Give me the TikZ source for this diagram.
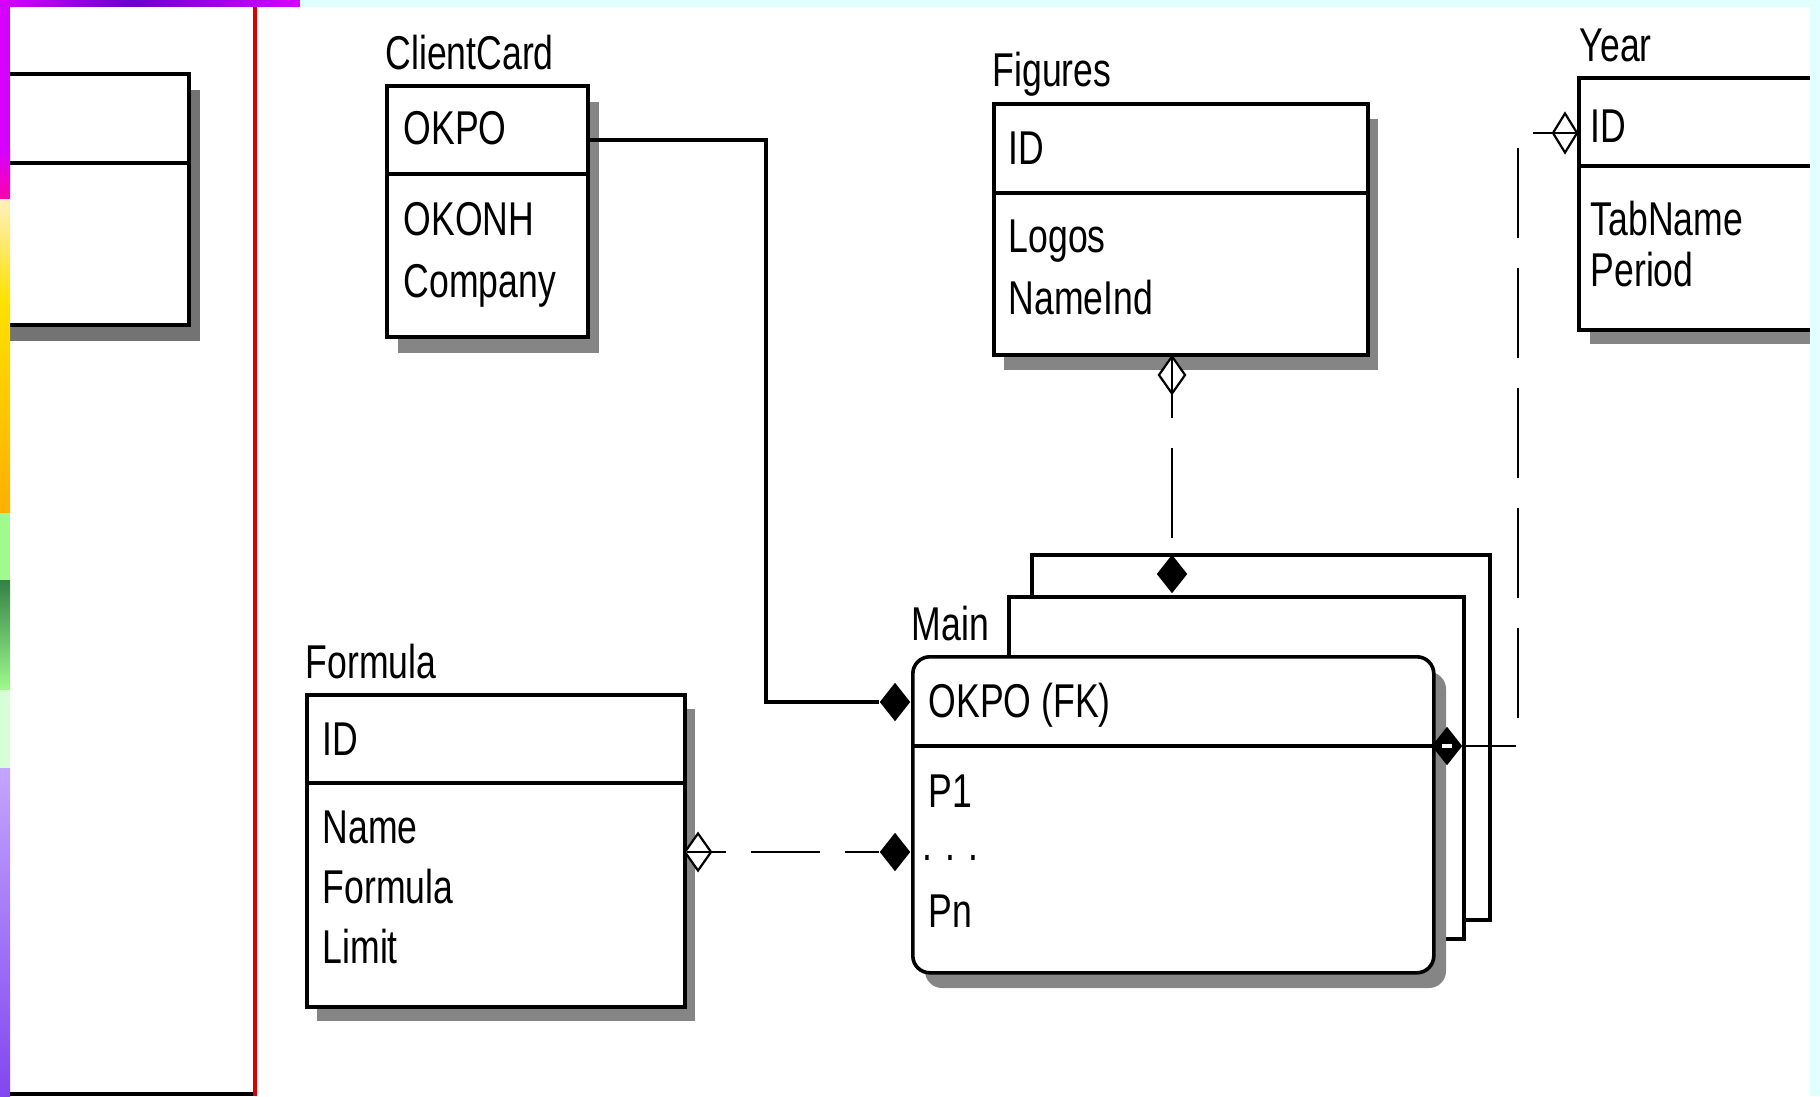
\documentclass[tikz,border=0pt]{standalone}
\usepackage{fontspec}
\newfontfamily\erfont{Liberation Sans}[FakeStretch=0.75]
\usetikzlibrary{shapes.geometric}
\definecolor{stripcyan}{RGB}{224,255,255}
\definecolor{panelred}{RGB}{220,0,0}
\definecolor{stripmag}{RGB}{215,0,255}
\definecolor{stripblue}{RGB}{110,0,200}
\definecolor{strippink}{RGB}{255,0,170}
\definecolor{stripcream}{RGB}{255,240,190}
\definecolor{stripyellow}{RGB}{255,225,0}
\definecolor{striporange}{RGB}{255,175,0}
\definecolor{stripgreen}{RGB}{160,250,140}
\definecolor{stripdark}{RGB}{50,130,70}
\definecolor{strippale}{RGB}{215,255,215}
\definecolor{striplav}{RGB}{195,165,255}
\definecolor{stripviolet}{RGB}{130,70,240}

\begin{document}
\begin{tikzpicture}[x=0.1mm, y=-0.1mm,
  every node/.style={font=\erfont\fontsize{13.5}{16}\selectfont},
  entity/.style={draw, line width=0.36mm, fill=white, inner sep=0, anchor=north west},
  tabframe/.style={draw, line width=0.36mm, fill=white, inner sep=0, anchor=north west},
  shadowc/.style={fill=black!48},
  divline/.style={line width=0.36mm},
  lbl/.style={anchor=base west, inner sep=0},
  rel/.style={line width=0.34mm},
  nonid/.style={line width=0.28mm, dash pattern=on 9mm off 3mm},
  keydia/.style={shape=diamond, fill=black, inner sep=0, minimum width=3.1mm, minimum height=3.9mm},
  opendia/.style={shape=diamond, draw, fill=white, line width=0.22mm, inner sep=0, minimum width=2.7mm, minimum height=3.8mm}]
	\useasboundingbox (0,0) rectangle (1820,1096);
	\fill[white] (0,0) rectangle (1820,1096);

	\fill[black!55] (-27,90) rectangle (200,341);
	\node[entity, minimum width=22.7mm, minimum height=25.1mm] (leftbox) at (-40,72) {};
	\draw[divline] (-40,163) -- (187,163);

	\fill[stripmag] (0,7) rectangle (10,150);
	\shade[top color=stripmag, bottom color=strippink] (0,150) rectangle (10,200);
	\shade[top color=stripcream, bottom color=stripyellow] (0,200) rectangle (10,300);
	\shade[top color=stripyellow, bottom color=striporange] (0,300) rectangle (10,513);
	\fill[stripgreen] (0,513) rectangle (10,580);
	\shade[top color=stripdark, bottom color=stripgreen] (0,580) rectangle (10,690);
	\fill[strippale] (0,690) rectangle (10,768);
	\shade[top color=striplav, bottom color=stripviolet] (0,768) rectangle (10,1096);
	\fill[panelred] (253,7) rectangle (257,1096);
	\fill (10,1092) rectangle (253,1096);

	\fill[shadowc] (398,102) rectangle (599,353);
	\node[entity, minimum width=20.1mm, minimum height=25.1mm] (client) at (385,84) {};
	\draw[divline] (385,174) -- (586,174);

	\fill[shadowc] (1004,119) rectangle (1378,370);
	\node[entity, minimum width=37.4mm, minimum height=25.1mm] (figs) at (992,102) {};
	\draw[divline] (992,193) -- (1366,193);

	\fill[shadowc] (317,709) rectangle (695,1021);
	\node[entity, minimum width=37.8mm, minimum height=31.2mm] (formbox) at (305,693) {};
	\draw[divline] (305,783) -- (683,783);

	\fill[shadowc] (1590,92) rectangle (1900,344);
	\node[entity, minimum width=30mm, minimum height=25.2mm] (yearbox) at (1577,76) {};
	\draw[divline] (1577,166) -- (1877,166);

	\node[tabframe, minimum width=45.8mm, minimum height=36.5mm] (mainback) at (1030,553) {};
	\node[tabframe, minimum width=45.5mm, minimum height=34.2mm] (mainmid) at (1007,595) {};
	\fill[shadowc, rounded corners=1.7mm] (925,672) rectangle (1446,988);
	\node[tabframe, rounded corners=1.7mm, minimum width=52.1mm, minimum height=31.6mm] (mainfront) at (911,655) {};
	\draw[divline] (911,746) -- (1432,746);

	\node[lbl] (tClient) at (385,70) {ClientCard};
	\node[lbl] (cOKPO) at (403,145) {OKPO};
	\node[lbl] (cOKONH) at (403,235) {OKONH};
	\node[lbl] (cCompany) at (403,297) {Company};

	\node[lbl] (tFigs) at (992,87) {Figures};
	\node[lbl] (gID) at (1008,165) {ID};
	\node[lbl] (gLogos) at (1008,253) {Logos};
	\node[lbl] (gNameInd) at (1008,315) {NameInd};

	\node[lbl] (tYear) at (1579,62) {Year};
	\node[lbl] (yID) at (1590,143) {ID};
	\node[lbl] (yTabName) at (1590,235) {TabName};
	\node[lbl] (yPeriod) at (1590,287) {Period};

	\node[lbl] (tForm) at (305,678) {Formula};
	\node[lbl] (fID) at (322,755) {ID};
	\node[lbl] (fName) at (322,843) {Name};
	\node[lbl] (fFormula) at (322,903) {Formula};
	\node[lbl] (fLimit) at (322,963) {Limit};

	\node[lbl] (tMain) at (911,640) {Main};
	\node[lbl] (mOKPO) at (928,717) {OKPO (FK)};
	\node[lbl] (mP1) at (928,807) {P1};
	\node[lbl] (mDots) at (922,860) {. . .};
	\node[lbl] (mPn) at (928,927) {Pn};

	\coordinate (bendA) at (766,140);
	\coordinate (bendY) at (1518,133);
	\node[keydia] (dOKPO) at (895,702) {};
	\node[keydia] (dDots) at (895,852) {};
	\node[keydia] (dFig) at (1172,574) {};
	\node[keydia] (dYear) at (1447,746) {};
	\node[opendia] (oForm) at (698,852) {};
	\node[opendia] (oFig) at (1172,375) {};
	\node[opendia, minimum width=2.5mm, minimum height=4mm] (oYear) at (1565,133) {};
	\draw[rel] (client.east |- bendA) -- (bendA) |- (dOKPO);
	\draw[nonid, dash pattern=on 6.9mm off 2.5mm, dash phase=3.5mm] (dDots) -- (formbox.east |- dDots);
	\draw[nonid, dash phase=2.9mm] (figs.south -| oFig) -- (dFig);
	\draw[nonid, dash phase=4.6mm] (yearbox.west |- oYear) -- (bendY) |- (dYear);
	\draw[white, line width=0.4mm] ([xshift=-0.5mm]dYear.center) -- ([xshift=0.5mm]dYear.center);

	\shade[left color=stripmag, right color=stripblue] (0,0) rectangle (130,7);
	\shade[left color=stripblue, right color=stripmag] (130,0) rectangle (300,7);
	\fill[stripcyan] (300,0) rectangle (1820,7);
	\fill[stripcyan] (1810,0) rectangle (1820,1096);
\end{tikzpicture}
\end{document}
